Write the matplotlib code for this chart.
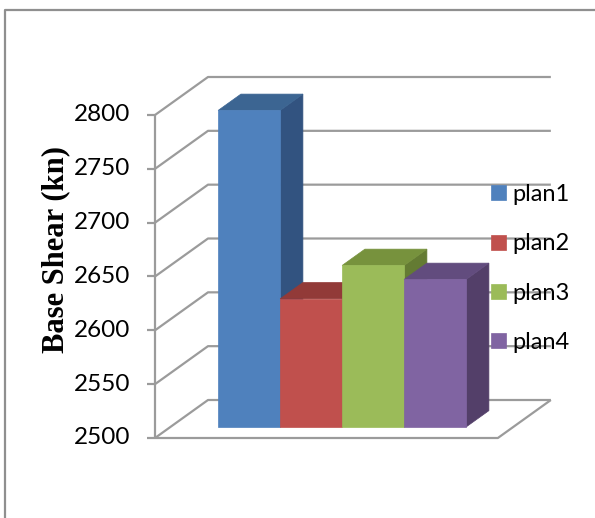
import matplotlib
matplotlib.use("Agg")
import matplotlib.pyplot as plt
from matplotlib.patches import Polygon
from matplotlib.lines import Line2D

# ---- data ----
series = ["plan1", "plan2", "plan3", "plan4"]
base_shear = [2794, 2619, 2650, 2637]
tick_values = [2500, 2550, 2600, 2650, 2700, 2750, 2800]
y_label = "Base Shear (kn)"

front_colors = ["#4F81BD", "#C0504D", "#9BBB59", "#8064A2"]
top_colors = ["#3C6592", "#923A38", "#77923D", "#624C7E"]
side_colors = ["#325380", "#7E3230", "#647B33", "#533F69"]

# ---- oblique 3-D projection (data units: x = bar slots, y = value) ----
Y_MIN, Y_MAX = tick_values[0], tick_values[-1]
PX_PER_SLOT = 62.0
PX_PER_VAL = 323.0 / 300.0
DEPTH_DX = 53.0 / PX_PER_SLOT          # depth vector, x part (slots)
DEPTH_DY = 38.0 / PX_PER_VAL           # depth vector, y part (value units)
FLOOR_W = 5.53                         # floor width in slots
BAR_X0 = 0.77                          # first bar's left edge
BAR_D0, BAR_D1 = 0.29, 0.72            # bar front/back depth

W, H = 595, 518
fig = plt.figure(figsize=(W / 100, H / 100), dpi=100)
ax = fig.add_axes([0, 0, 1, 1])
ax.set_xlim(-155 / PX_PER_SLOT, (W - 155) / PX_PER_SLOT)
ax.set_ylim(Y_MIN - (H - 438) / PX_PER_VAL, Y_MIN + 438 / PX_PER_VAL)
ax.axis("off")


def proj(x, v, d):
    return (x + d * DEPTH_DX, v + d * DEPTH_DY)


grid_kw = dict(color="#9b9b9b", lw=1.6, solid_capstyle="butt", zorder=1)

# walls: side-wall diagonals and back-wall gridlines
for v in tick_values:
    p0 = proj(0, v, 0)
    p1 = proj(0, v, 1)
    p2 = proj(FLOOR_W, v, 1)
    ax.plot([p0[0], p1[0], p2[0]], [p0[1], p1[1], p2[1]], **grid_kw)
    # tick mark on the value axis
    ax.plot([-8 / PX_PER_SLOT, 0], [v, v], **grid_kw)
    ax.text(-25 / PX_PER_SLOT, v, f"{v}", ha="right", va="center",
            fontsize=17.5, family="Lato", color="black")

# value axis and floor outline
ax.plot([0, 0], [Y_MIN, Y_MAX], **grid_kw)
fr = proj(FLOOR_W, Y_MIN, 1)
ax.plot([0, FLOOR_W, fr[0]], [Y_MIN, Y_MIN, fr[1]], **grid_kw)

# bars
handles = []
for i, (name, val) in enumerate(zip(series, base_shear)):
    x0, x1 = BAR_X0 + i, BAR_X0 + i + 1
    z = 3 + i
    front = Polygon([proj(x0, Y_MIN, BAR_D0), proj(x1, Y_MIN, BAR_D0),
                     proj(x1, val, BAR_D0), proj(x0, val, BAR_D0)],
                    closed=True, facecolor=front_colors[i],
                    edgecolor=front_colors[i], lw=0.5, zorder=z, label=name)
    top = Polygon([proj(x0, val, BAR_D0), proj(x1, val, BAR_D0),
                   proj(x1, val, BAR_D1), proj(x0, val, BAR_D1)],
                  closed=True, facecolor=top_colors[i],
                  edgecolor=top_colors[i], lw=0.5, zorder=z)
    side = Polygon([proj(x1, Y_MIN, BAR_D0), proj(x1, Y_MIN, BAR_D1),
                    proj(x1, val, BAR_D1), proj(x1, val, BAR_D0)],
                   closed=True, facecolor=side_colors[i],
                   edgecolor=side_colors[i], lw=0.5, zorder=z)
    for p in (side, top, front):
        ax.add_patch(p)
    handles.append(front)

leg = ax.legend(handles=handles, loc="upper left",
                bbox_to_anchor=(491 / W, 1 - 184 / H),
                bbox_transform=fig.transFigure, frameon=False,
                prop={"family": "Lato", "size": 17},
                handlelength=0.64, handleheight=0.6, handletextpad=0.27,
                labelspacing=1.2, borderpad=0, borderaxespad=0)
leg.set_zorder(20)

# y-axis title
fig.text(56 / W, 1 - 250 / H, y_label, rotation=90, ha="center", va="center",
         fontsize=22, fontweight="bold", family="Liberation Serif")

# chart area border
fig.add_artist(Line2D([5 / W, 5 / W, 1.0], [0.0, 1 - 10 / H, 1 - 10 / H],
                      transform=fig.transFigure, color="#8f8f8f", lw=1.6))

fig.savefig("out.png", dpi=100)
